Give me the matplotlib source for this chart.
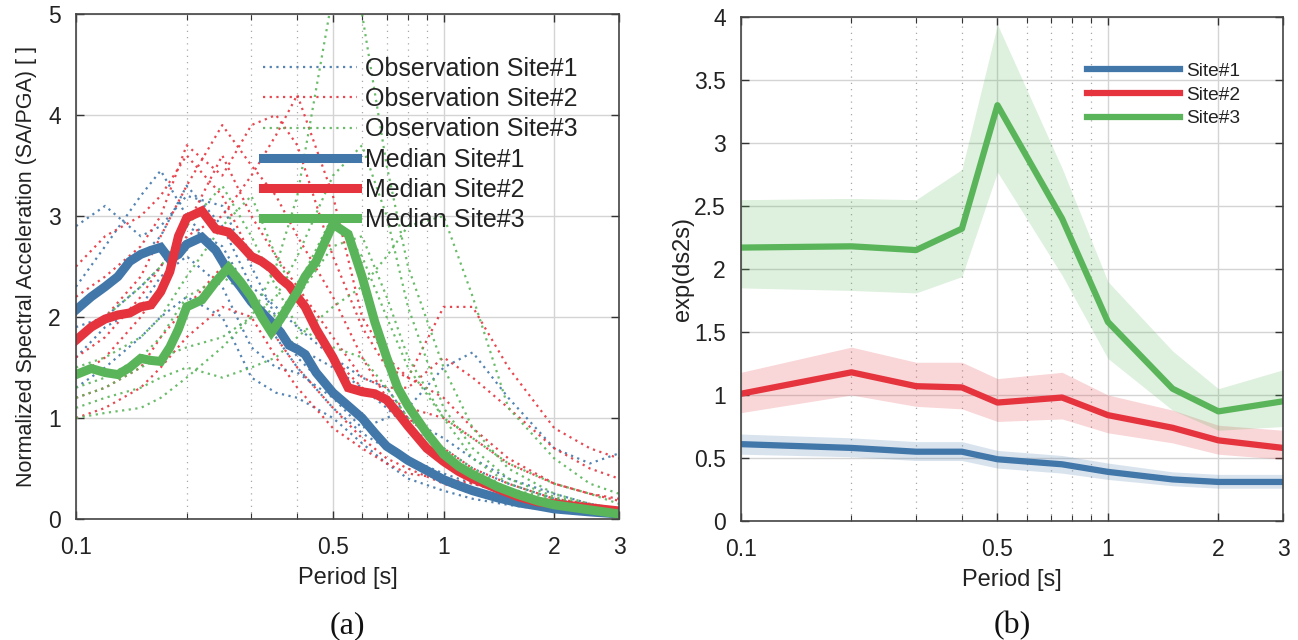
import numpy as np
import matplotlib
matplotlib.use("Agg")
import matplotlib.pyplot as plt
from matplotlib.ticker import FixedLocator, NullFormatter, FixedFormatter

plt.rcParams['font.family'] = ['Liberation Sans', 'DejaVu Sans']

# ---------------- data: panel (a) ----------------
obs_periods = [0.1, 0.12, 0.15, 0.17, 0.2, 0.25, 0.3, 0.35, 0.4, 0.5, 0.6, 0.7, 0.8, 1.0, 1.2, 1.5, 2.0, 2.5, 3.0]

obs_site1 = [
    [2.3, 2.7, 3.2, 3.45, 3.0, 2.6, 2.1, 1.8, 1.5, 1.1, 0.85, 0.7, 0.55, 0.4, 0.3, 0.2, 0.12, 0.08, 0.06],
    [2.9, 3.1, 2.8, 2.9, 3.2, 3.1, 2.5, 2.0, 1.6, 1.25, 1.0, 0.75, 0.6, 0.45, 0.35, 0.25, 0.15, 0.1, 0.08],
    [1.6, 1.9, 2.1, 2.4, 2.6, 2.3, 1.7, 1.5, 1.45, 1.2, 0.9, 1.0, 1.1, 1.5, 1.65, 1.2, 0.7, 0.55, 0.65],
    [1.9, 2.0, 2.3, 2.5, 2.9, 2.7, 2.2, 1.9, 1.7, 1.5, 1.3, 1.1, 0.9, 0.7, 0.5, 0.35, 0.2, 0.12, 0.08],
    [1.3, 1.5, 1.8, 2.0, 2.2, 2.0, 1.4, 1.25, 1.2, 1.0, 0.75, 0.55, 0.4, 0.28, 0.2, 0.14, 0.08, 0.05, 0.04],
    [2.1, 2.3, 2.6, 2.8, 3.3, 2.9, 2.3, 2.1, 1.9, 1.6, 1.4, 1.3, 1.0, 0.8, 0.6, 0.4, 0.25, 0.15, 0.1],
]
obs_site2 = [
    [1.8, 2.0, 2.4, 2.8, 3.3, 3.9, 3.5, 3.2, 2.8, 2.2, 1.6, 1.2, 1.0, 0.7, 0.5, 0.35, 0.2, 0.15, 0.1],
    [2.2, 2.4, 2.7, 3.0, 3.7, 3.4, 3.9, 4.0, 3.7, 2.6, 1.9, 1.5, 1.4, 1.2, 0.9, 0.6, 0.35, 0.25, 0.2],
    [1.4, 1.6, 2.0, 2.3, 2.8, 3.0, 3.4, 3.8, 4.2, 3.2, 2.0, 1.6, 1.4, 2.1, 2.1, 1.5, 0.9, 0.7, 0.6],
    [1.2, 1.3, 1.5, 1.8, 2.1, 2.5, 2.2, 1.8, 1.5, 1.1, 0.8, 0.6, 0.5, 0.35, 0.25, 0.18, 0.1, 0.07, 0.05],
    [2.5, 2.8, 3.0, 3.2, 3.6, 3.2, 2.6, 2.4, 2.2, 1.6, 1.3, 1.2, 1.1, 1.0, 0.8, 0.55, 0.35, 0.25, 0.18],
    [1.6, 1.8, 2.2, 2.5, 2.9, 3.6, 3.0, 2.6, 2.3, 1.8, 1.4, 1.3, 1.3, 1.6, 1.4, 1.1, 0.7, 0.5, 0.4],
    [1.0, 1.1, 1.3, 1.5, 1.8, 2.1, 2.0, 1.6, 1.3, 0.9, 0.7, 0.55, 0.45, 0.4, 0.35, 0.25, 0.15, 0.1, 0.07],
]
obs_site3 = [
    [1.0, 1.05, 1.1, 1.2, 1.4, 1.7, 2.0, 2.5, 3.2, 5.2, 5.0, 3.5, 2.5, 1.5, 0.9, 0.5, 0.25, 0.15, 0.1],
    [1.1, 1.2, 1.3, 1.4, 1.5, 1.4, 1.5, 1.6, 1.8, 2.1, 2.3, 2.6, 2.9, 3.0, 2.2, 1.1, 0.6, 0.35, 0.25],
    [1.5, 1.6, 1.8, 2.0, 2.4, 2.9, 3.2, 2.6, 2.2, 2.7, 2.8, 2.2, 1.6, 1.0, 0.6, 0.35, 0.2, 0.13, 0.1],
    [1.2, 1.3, 1.5, 1.6, 1.7, 1.8, 2.0, 2.2, 2.6, 3.4, 3.7, 3.0, 2.1, 1.1, 0.7, 0.4, 0.22, 0.14, 0.1],
    [1.8, 2.0, 2.3, 2.5, 2.9, 3.3, 2.8, 2.3, 1.9, 1.7, 1.6, 1.3, 1.0, 0.7, 0.5, 0.3, 0.2, 0.14, 0.1],
    [1.3, 1.4, 1.6, 1.8, 2.2, 2.4, 2.2, 2.0, 2.3, 3.0, 2.6, 2.0, 1.5, 1.0, 0.8, 0.55, 0.35, 0.25, 0.15],
]

med_periods = [0.1, 0.11, 0.12, 0.13, 0.14, 0.15, 0.16, 0.17, 0.18, 0.19, 0.2, 0.22, 0.24, 0.26,
               0.28, 0.3, 0.32, 0.34, 0.36, 0.38, 0.4, 0.42, 0.45, 0.5, 0.55, 0.6, 0.65, 0.7, 0.75,
               0.8, 0.9, 1.0, 1.1, 1.2, 1.4, 1.6, 1.8, 2.0, 2.5, 3.0]
med_site1 = [2.07, 2.2, 2.3, 2.4, 2.55, 2.62, 2.66, 2.69, 2.57, 2.62, 2.72, 2.79, 2.66, 2.45,
             2.3, 2.15, 2.05, 1.95, 1.85, 1.72, 1.68, 1.63, 1.45, 1.25, 1.12, 1.0, 0.85, 0.72, 0.65,
             0.58, 0.48, 0.39, 0.33, 0.28, 0.21, 0.16, 0.13, 0.1, 0.07, 0.05]
med_site2 = [1.77, 1.9, 1.98, 2.02, 2.04, 2.1, 2.12, 2.25, 2.45, 2.8, 2.98, 3.05, 2.87, 2.84,
             2.72, 2.6, 2.55, 2.48, 2.38, 2.31, 2.2, 2.1, 1.88, 1.6, 1.3, 1.26, 1.24, 1.18, 1.05,
             0.92, 0.7, 0.57, 0.47, 0.4, 0.3, 0.22, 0.17, 0.15, 0.11, 0.08]
med_site3 = [1.43, 1.49, 1.45, 1.43, 1.5, 1.59, 1.57, 1.56, 1.7, 1.88, 2.1, 2.17, 2.35, 2.49,
             2.35, 2.2, 2.0, 1.85, 1.98, 2.12, 2.25, 2.4, 2.55, 2.92, 2.82, 2.4, 1.95, 1.6, 1.3,
             1.12, 0.85, 0.64, 0.52, 0.44, 0.32, 0.24, 0.18, 0.14, 0.09, 0.05]

# ---------------- data: panel (b) ----------------
b_periods = [0.1, 0.2, 0.3, 0.4, 0.5, 0.75, 1.0, 1.5, 2.0, 3.0]
b_site1 = [0.61, 0.58, 0.55, 0.55, 0.49, 0.45, 0.39, 0.33, 0.31, 0.31]
b_site1_lo = [0.53, 0.51, 0.48, 0.48, 0.42, 0.38, 0.33, 0.28, 0.26, 0.26]
b_site1_hi = [0.69, 0.66, 0.63, 0.63, 0.56, 0.52, 0.46, 0.39, 0.37, 0.37]
b_site2 = [1.01, 1.18, 1.07, 1.06, 0.94, 0.98, 0.84, 0.74, 0.64, 0.58]
b_site2_lo = [0.86, 1.0, 0.91, 0.89, 0.79, 0.81, 0.70, 0.62, 0.53, 0.49]
b_site2_hi = [1.18, 1.38, 1.26, 1.26, 1.13, 1.18, 1.00, 0.88, 0.76, 0.72]
b_site3 = [2.17, 2.18, 2.15, 2.32, 3.30, 2.40, 1.58, 1.05, 0.87, 0.95]
b_site3_lo = [1.85, 1.83, 1.81, 1.94, 2.77, 1.95, 1.29, 0.88, 0.72, 0.75]
b_site3_hi = [2.55, 2.56, 2.55, 2.79, 3.94, 2.80, 1.90, 1.35, 1.05, 1.20]

labels_obs = ["Observation Site#1", "Observation Site#2", "Observation Site#3"]
labels_med = ["Median Site#1", "Median Site#2", "Median Site#3"]
labels_b = ["Site#1", "Site#2", "Site#3"]

xticks = [0.1, 0.5, 1, 2, 3]
xticklabels = ["0.1", "0.5", "1", "2", "3"]
minor_x = [0.2, 0.3, 0.4, 0.6, 0.7, 0.8, 0.9]

colors = ["#4277aa", "#e5343e", "#5ab55a"]

fig = plt.figure(figsize=(12.98, 6.4), dpi=100)
axA = fig.add_axes([76/1298, 1-519/640, (619-76)/1298, (519-14)/640])
axB = fig.add_axes([741/1298, 1-521/640, (1283-741)/1298, (521-17)/640])

def style(ax, ymax, ystep):
    ax.set_xscale("log")
    ax.set_xlim(0.1, 3)
    ax.set_ylim(0, ymax)
    ax.xaxis.set_major_locator(FixedLocator(xticks))
    ax.xaxis.set_major_formatter(FixedFormatter(xticklabels))
    ax.xaxis.set_minor_locator(FixedLocator(minor_x))
    ax.xaxis.set_minor_formatter(NullFormatter())
    yt = np.arange(0, ymax + 1e-9, ystep)
    ax.set_yticks(yt)
    ax.set_yticklabels([("%g" % v) for v in yt])
    ax.grid(True, which="major", color="#d4d4d4", lw=1.0, ls="-")
    ax.grid(True, which="minor", axis="x", color="#a8a8a8", lw=0.9, ls=(0, (1, 4)))
    ax.set_axisbelow(True)
    ax.tick_params(which="both", direction="in", top=True, right=True,
                   labelsize=16.5, colors="#333333", labelcolor="#222222")
    ax.tick_params(axis="x", which="major", pad=12)
    ax.tick_params(axis="y", which="major", pad=11)
    ax.tick_params(which="major", length=6, width=1.0)
    ax.tick_params(which="minor", length=4, width=0.8)
    for s in ax.spines.values():
        s.set_color("#444444")
        s.set_linewidth(1.2)
    ax.set_xlabel("Period [s]", fontsize=17, color="#222222", labelpad=6)

# ---- panel (a)
style(axA, 5, 1)
obs_all = [obs_site1, obs_site2, obs_site3]
obs_handles = []
for k, group in enumerate(obs_all):
    h = None
    for series in group:
        h, = axA.plot(obs_periods, series, ls=(0, (1, 2.0)), lw=1.6, color=colors[k], alpha=0.9)
    obs_handles.append(h)
med_handles = []
for k, med in enumerate([med_site1, med_site2, med_site3]):
    h, = axA.plot(med_periods, med, color=colors[k], lw=6.5, solid_joinstyle="miter")
    med_handles.append(h)
axA.set_ylabel("Normalized Spectral Acceleration (SA/PGA) [ ]", fontsize=15.5,
               color="#222222", labelpad=8)
legA = axA.legend(obs_handles + med_handles, labels_obs + labels_med,
                  loc="upper left", bbox_to_anchor=(0.344, 0.915), frameon=False,
                  fontsize=18, handlelength=3.76, handletextpad=0.32,
                  labelspacing=0.25, borderpad=0, borderaxespad=0)
for t in legA.get_texts():
    t.set_color("#222222")

# ---- panel (b)
style(axB, 4, 0.5)
fills = [(b_site1_lo, b_site1_hi), (b_site2_lo, b_site2_hi), (b_site3_lo, b_site3_hi)]
b_handles = []
for k, (mid, (lo, hi)) in enumerate(zip([b_site1, b_site2, b_site3], fills)):
    axB.fill_between(b_periods, lo, hi, color=colors[k], alpha=0.2, lw=0)
    h, = axB.plot(b_periods, mid, color=colors[k], lw=4.5)
    b_handles.append(h)
axB.set_ylabel("exp(ds2s)", fontsize=17, color="#222222", labelpad=0)
legB = axB.legend(b_handles, labels_b, loc="upper left", bbox_to_anchor=(0.638, 0.91),
                  frameon=False, fontsize=13.8, handlelength=4.85, handletextpad=0.35,
                  labelspacing=0.33, borderpad=0, borderaxespad=0)
for t in legB.get_texts():
    t.set_color("#222222")

fig.text(347/1298, 1-626/640, "(a)", ha="center", va="center", fontsize=23,
         family=["Liberation Serif", "DejaVu Serif"], color="#111111")
fig.text(1012/1298, 1-626/640, "(b)", ha="center", va="center", fontsize=23,
         family=["Liberation Serif", "DejaVu Serif"], color="#111111")

fig.savefig("out.png", dpi=100)
